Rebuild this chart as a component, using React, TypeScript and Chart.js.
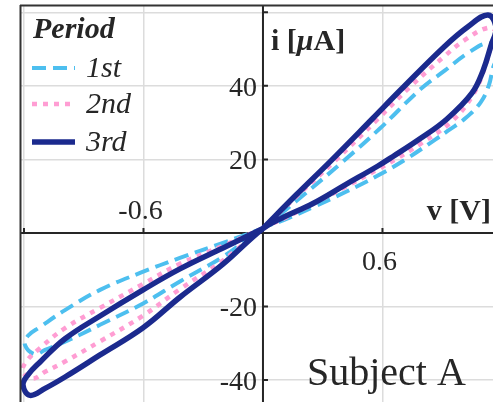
import React, { useEffect, useRef } from "react";
import { Chart, registerables } from "chart.js";

Chart.register(...registerables);

// ---- data (voltage v [V], current i [µA]) ----
const periods = ["1st", "2nd", "3rd"];

const v1st = [0, 0.166, 0.412, 0.587, 0.793, 0.914, 1.029, 1.13, 1.2, 1.16, 1.135, 1.094, 1.019, 0.929, 0.863, 0.713, 0.577, 0.417, 0.251, 0.1, 0, -0.201, -0.417, -0.602, -0.818, -0.994, -1.094, -1.145, -1.195, -1.18, -1.119, -0.994, -0.818, -0.617, -0.417, -0.201, 0];
const i1st = [1.2, 8.6, 19.9, 28.4, 39.2, 44.2, 48.9, 51.6, 49.3, 45.7, 40.3, 35.6, 31.3, 27.8, 25.3, 19.9, 15.6, 11.2, 7.0, 3.4, 1.2, -6.5, -13.2, -19.2, -25.0, -29.6, -31.8, -33.0, -30.5, -28.0, -25.6, -21.0, -15.5, -10.9, -6.8, -2.7, 1.2];

const v2nd = [0, 0.166, 0.356, 0.577, 0.738, 0.914, 1.014, 1.13, 1.175, 1.155, 1.114, 1.054, 0.949, 0.793, 0.663, 0.577, 0.417, 0.251, 0.1, 0, -0.201, -0.417, -0.602, -0.818, -0.994, -1.094, -1.155, -1.205, -1.19, -1.119, -0.994, -0.818, -0.602, -0.417, -0.201, 0];
const i2nd = [1.2, 9.8, 19.3, 31.0, 39.7, 48.2, 52.5, 55.8, 54.4, 52.5, 45.0, 37.5, 30.4, 24.3, 19.9, 17.3, 12.6, 7.9, 3.8, 1.2, -7.5, -15.3, -22.5, -29.5, -35.0, -37.8, -39.6, -37.8, -35.1, -31.3, -25.9, -20.4, -13.9, -8.4, -3.5, 1.2];

const v3rd = [0, 0.166, 0.341, 0.552, 0.693, 0.909, 1.029, 1.13, 1.17, 1.145, 1.104, 1.049, 0.924, 0.788, 0.653, 0.577, 0.417, 0.251, 0.1, 0, -0.201, -0.417, -0.602, -0.818, -0.994, -1.094, -1.17, -1.205, -1.18, -1.119, -0.994, -0.818, -0.602, -0.417, -0.201, 0];
const i3rd = [1.2, 10.3, 19.6, 31.2, 39.0, 50.6, 56.1, 59.3, 55.8, 51.0, 44.0, 38.0, 31.0, 25.6, 20.8, 18.2, 13.2, 8.0, 4.2, 1.2, -8.5, -17.5, -25.8, -33.2, -39.2, -42.3, -44.2, -41.4, -38.6, -35.1, -28.8, -22.6, -15.5, -9.8, -4.1, 1.2];

const xTicks = [-1.2, -0.6, 0, 0.6];
const yTicks = [-40, -20, 0, 20, 40, 60];
const xLabelValues = [-0.6, 0.6];
const xLabels = ["-0.6", "0.6"];
const yLabelValues = [40, 20, -20, -40];
const yLabels = ["40", "20", "-20", "-40"];

const COLORS = ["#4DBFEF", "#FF9DD3", "#1B2A8E"];
const WIDTHS = [4, 4.5, 5.5];
const DASHES: number[][] = [[14, 7], [5, 6], []];
const TEXT = "#262626";
const SERIF = '"Liberation Serif", "Times New Roman", serif';

const toPoints = (vs: number[], is: number[]) => vs.map((v, k) => ({ x: v, y: is[k] }));

const overlay = {
  id: "overlay",
  beforeDatasetsDraw(chart: any) {
    const { ctx, chartArea, scales } = chart;
    const x = scales.x, y = scales.y;
    const x0 = x.getPixelForValue(0);
    const y0 = y.getPixelForValue(0);
    ctx.save();
    ctx.strokeStyle = TEXT;
    ctx.lineWidth = 2;
    ctx.beginPath();
    ctx.moveTo(x0, chartArea.top);
    ctx.lineTo(x0, chartArea.bottom);
    ctx.moveTo(chartArea.left, y0);
    ctx.lineTo(chartArea.right, y0);
    for (const v of yTicks) {
      if (v === 0) continue;
      const py = y.getPixelForValue(v);
      ctx.moveTo(x0, py);
      ctx.lineTo(x0 + 5, py);
    }
    for (const v of xTicks) {
      if (v === 0) continue;
      const px = x.getPixelForValue(v);
      ctx.moveTo(px, y0);
      ctx.lineTo(px, y0 - 5);
    }
    ctx.stroke();
    ctx.restore();
  },
  afterDraw(chart: any) {
    const { ctx, chartArea, scales } = chart;
    const x = scales.x, y = scales.y;
    const x0 = x.getPixelForValue(0);
    const y0 = y.getPixelForValue(0);
    ctx.save();
    // box (top + left)
    ctx.strokeStyle = "#333333";
    ctx.lineWidth = 2;
    ctx.beginPath();
    ctx.moveTo(chartArea.left, chartArea.top + 0.5);
    ctx.lineTo(chartArea.right, chartArea.top + 0.5);
    ctx.moveTo(chartArea.left + 0.5, chartArea.top);
    ctx.lineTo(chartArea.left + 0.5, chartArea.bottom);
    ctx.stroke();

    ctx.fillStyle = TEXT;
    // tick labels
    ctx.font = `28px ${SERIF}`;
    ctx.textAlign = "right";
    ctx.textBaseline = "alphabetic";
    yLabelValues.forEach((v, k) => {
      ctx.fillText(yLabels[k], x0 - 6, y.getPixelForValue(v) + 10);
    });
    ctx.textAlign = "center";
    xLabelValues.forEach((v, k) => {
      const px = x.getPixelForValue(v) - 3;
      const py = v < 0 ? y0 - 14 : y0 + 37;
      ctx.fillText(xLabels[k], px, py);
    });

    // axis labels
    ctx.textAlign = "left";
    let cx = x0 + 8;
    const iy = 50;
    ctx.font = `bold 30px ${SERIF}`;
    ctx.fillText("i [", cx, iy);
    cx += ctx.measureText("i [").width;
    ctx.font = `italic bold 30px ${SERIF}`;
    ctx.fillText("\u03BC", cx, iy);
    cx += ctx.measureText("\u03BC").width;
    ctx.font = `bold 30px ${SERIF}`;
    ctx.fillText("A]", cx, iy);

    ctx.textAlign = "right";
    ctx.fillText("v [V]", chartArea.right - 2, y0 - 13);

    // subject
    ctx.textAlign = "left";
    ctx.font = `40px ${SERIF}`;
    ctx.fillText("Subject A", 307, 385);

    // legend
    ctx.font = `italic bold 30px ${SERIF}`;
    ctx.fillText("Period", 33, 38);
    const lineYs = [68, 104, 142];
    const textYs = [77, 113, 151];
    ctx.font = `italic 30px ${SERIF}`;
    periods.forEach((p, k) => {
      ctx.save();
      ctx.strokeStyle = COLORS[k];
      ctx.lineWidth = WIDTHS[k];
      ctx.setLineDash(DASHES[k]);
      ctx.beginPath();
      ctx.moveTo(32, lineYs[k]);
      ctx.lineTo(75, lineYs[k]);
      ctx.stroke();
      ctx.restore();
      ctx.fillText(p, 86, textYs[k]);
    });
    ctx.restore();
  },
};

export default function App() {
  const ref = useRef<HTMLCanvasElement | null>(null);
  useEffect(() => {
    if (!ref.current) return;
    const series = [toPoints(v1st, i1st), toPoints(v2nd, i2nd), toPoints(v3rd, i3rd)];
    const chart = new Chart(ref.current, {
      type: "scatter",
      data: {
        datasets: series.map((pts, k) => ({
          label: periods[k],
          data: pts,
          showLine: true,
          borderColor: COLORS[k],
          backgroundColor: COLORS[k],
          borderWidth: WIDTHS[k],
          borderDash: DASHES[k],
          borderCapStyle: "butt",
          borderJoinStyle: "round",
          pointRadius: 0,
          tension: 0.4,
          order: 2 - k,
        })),
      },
      options: {
        responsive: false,
        animation: false,
        events: [],
        layout: { padding: { left: 20, top: 5, right: 0, bottom: 0 } },
        plugins: { legend: { display: false }, tooltip: { enabled: false } },
        scales: {
          x: {
            type: "linear",
            min: -1.22,
            max: 1.155,
            afterBuildTicks: (s: any) => {
              s.ticks = xTicks.map((value) => ({ value }));
            },
            ticks: { display: false },
            grid: { color: "#dcdcdc", lineWidth: 1.5, drawTicks: false },
            border: { display: false },
          },
          y: {
            type: "linear",
            min: -46,
            max: 62,
            afterBuildTicks: (s: any) => {
              s.ticks = yTicks.map((value) => ({ value }));
            },
            ticks: { display: false },
            grid: { color: "#dcdcdc", lineWidth: 1.5, drawTicks: false },
            border: { display: false },
          },
        },
      },
      plugins: [overlay],
    } as any);
    return () => chart.destroy();
  }, []);
  return (
    <div style={{ position: "fixed", left: 0, top: 0, width: 493, height: 402, background: "#fff" }}>
      <canvas ref={ref} width={493} height={402} style={{ display: "block" }} />
    </div>
  );
}
